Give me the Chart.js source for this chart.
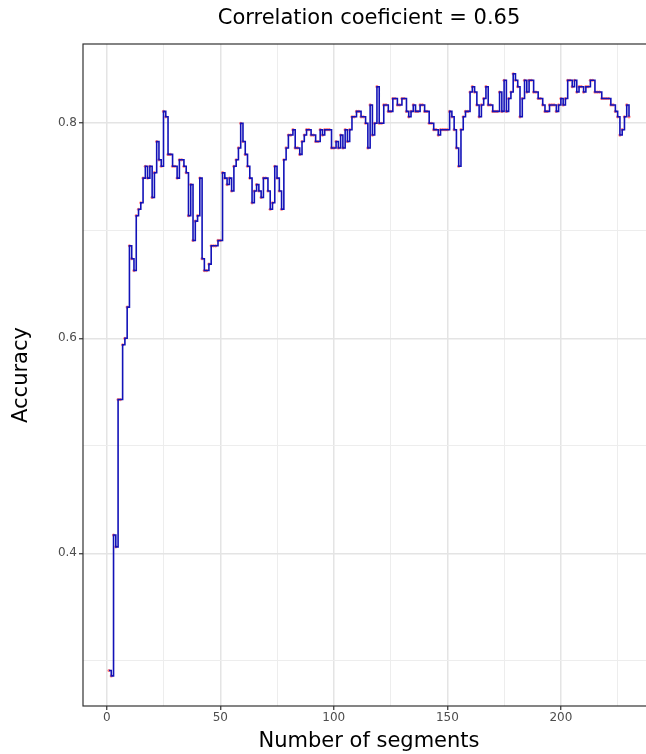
<!DOCTYPE html>
<html lang="en">
<head>
<meta charset="UTF-8">
<title>Accuracy vs number of segments</title>
<script src="https://cdn.jsdelivr.net/npm/chart.js@4.4.1/dist/chart.umd.min.js"></script>
<style>
  html, body { margin: 0; padding: 0; background: #fff; }
  /* the panel runs a little past the right edge in the original, so clip it */
  #wrap { width: 646px; height: 754px; overflow: hidden; }
  #chart { display: block; }
</style>
</head>
<body>
<div id="wrap"><canvas id="chart" width="660" height="754"></canvas></div>
<script>
const chartTitle = 'Correlation coeficient = 0.65';
const xTitle = 'Number of segments';
const yTitle = 'Accuracy';

// accuracy for 1, 2, ... 230 segments
const firstSegment = 1;
const accuracy = [
  0.291, 0.286, 0.417, 0.406, 0.543, 0.543, 0.594, 0.600, 0.629, 0.686,
  0.674, 0.663, 0.714, 0.720, 0.726, 0.749, 0.760, 0.749, 0.760, 0.731,
  0.754, 0.783, 0.766, 0.760, 0.811, 0.806, 0.771, 0.771, 0.760, 0.760,
  0.749, 0.766, 0.766, 0.760, 0.754, 0.714, 0.743, 0.691, 0.709, 0.714,
  0.749, 0.674, 0.663, 0.663, 0.669, 0.686, 0.686, 0.686, 0.691, 0.691,
  0.754, 0.749, 0.743, 0.749, 0.737, 0.760, 0.766, 0.777, 0.800, 0.783,
  0.771, 0.760, 0.749, 0.726, 0.737, 0.743, 0.737, 0.731, 0.749, 0.749,
  0.737, 0.720, 0.726, 0.760, 0.749, 0.737, 0.720, 0.766, 0.777, 0.789,
  0.789, 0.794, 0.777, 0.777, 0.771, 0.783, 0.789, 0.794, 0.794, 0.789,
  0.789, 0.783, 0.783, 0.794, 0.789, 0.794, 0.794, 0.794, 0.777, 0.777,
  0.783, 0.777, 0.789, 0.777, 0.794, 0.783, 0.794, 0.806, 0.806, 0.811,
  0.811, 0.806, 0.806, 0.800, 0.777, 0.817, 0.789, 0.800, 0.834, 0.800,
  0.800, 0.817, 0.817, 0.811, 0.811, 0.823, 0.823, 0.817, 0.817, 0.823,
  0.823, 0.811, 0.806, 0.811, 0.817, 0.811, 0.811, 0.817, 0.817, 0.811,
  0.811, 0.800, 0.800, 0.794, 0.794, 0.789, 0.794, 0.794, 0.794, 0.794,
  0.811, 0.806, 0.794, 0.777, 0.760, 0.794, 0.806, 0.811, 0.811, 0.829,
  0.834, 0.829, 0.817, 0.806, 0.817, 0.823, 0.834, 0.817, 0.817, 0.811,
  0.811, 0.811, 0.829, 0.811, 0.840, 0.811, 0.823, 0.829, 0.846, 0.840,
  0.834, 0.806, 0.823, 0.840, 0.829, 0.840, 0.840, 0.829, 0.829, 0.823,
  0.823, 0.817, 0.811, 0.811, 0.817, 0.817, 0.817, 0.811, 0.817, 0.823,
  0.817, 0.823, 0.840, 0.840, 0.834, 0.840, 0.829, 0.834, 0.834, 0.829,
  0.834, 0.834, 0.840, 0.840, 0.829, 0.829, 0.829, 0.823, 0.823, 0.823,
  0.823, 0.817, 0.817, 0.811, 0.806, 0.789, 0.794, 0.806, 0.817, 0.806
];

const xMajorTicks = [0, 50, 100, 150, 200];
const xMinorTicks = [25, 75, 125, 175, 225];
const yMajorTicks = [0.4, 0.6, 0.8];
const yMinorTicks = [0.3, 0.5, 0.7];
const xLimits = [-10.45, 241.45];
const yLimits = [0.258, 0.8737];

const points = accuracy.map((v, i) => ({ x: firstSegment + i, y: v }));

// grey20 frame round the panel, like theme_bw
const panelBorder = {
    id: 'panelBorder',
    afterDatasetsDraw(chart) {
        const { ctx, chartArea: a } = chart;
        ctx.save();
        ctx.strokeStyle = '#333333';
        ctx.lineWidth = 1.2;
        ctx.strokeRect(a.left, a.top, a.right - a.left, a.bottom - a.top);
        ctx.restore();
    }
};

function gridFor(majors) {
    const isMajor = c => majors.includes(c.tick.value);
    return {
        color: c => isMajor(c) ? '#e4e4e4' : '#ededed',
        lineWidth: c => isMajor(c) ? 1.5 : 1,
        tickColor: c => isMajor(c) ? '#333333' : 'rgba(0,0,0,0)',
        tickWidth: 1.2,
        tickLength: 4,
        drawTicks: true
    };
}

const tickFont = { family: 'DejaVu Sans', size: 12 };
const titleFont = { family: 'DejaVu Sans', size: 21 };

new Chart(document.getElementById('chart'), {
    type: 'line',
    data: {
        datasets: [
            {
                data: points,
                stepped: 'before',
                borderColor: '#1212b8',
                borderWidth: 1.6,
                pointRadius: 0,
                fill: false
            },
            {
                data: points,
                showLine: false,
                pointRadius: 1.6,
                pointBackgroundColor: 'rgba(255, 90, 90, 0.8)',
                pointBorderWidth: 0
            }
        ]
    },
    options: {
        responsive: false,
        animation: false,
        devicePixelRatio: 1,
        layout: { padding: { left: 0, right: 5, top: 0, bottom: 0 } },
        plugins: {
            legend: { display: false },
            tooltip: { enabled: false },
            title: {
                display: true,
                text: chartTitle,
                fullSize: false,
                color: '#000000',
                font: { family: 'DejaVu Sans', size: 21, weight: 'normal' },
                padding: { top: 5.5, bottom: 13.3 }
            }
        },
        scales: {
            x: {
                type: 'linear',
                min: xLimits[0],
                max: xLimits[1],
                afterBuildTicks: axis => {
                    axis.ticks = [...xMajorTicks, ...xMinorTicks].sort((a, b) => a - b).map(v => ({ value: v }));
                },
                afterFit: axis => { axis.height = 48; },
                grid: gridFor(xMajorTicks),
                border: { display: false },
                ticks: {
                    autoSkip: false,
                    maxRotation: 0,
                    padding: 1,
                    color: '#4d4d4d',
                    font: tickFont,
                    callback: v => xMajorTicks.includes(v) ? String(v) : ''
                },
                title: {
                    display: true,
                    text: xTitle,
                    color: '#000000',
                    font: titleFont,
                    padding: { top: 0, bottom: 0 }
                }
            },
            y: {
                type: 'linear',
                min: yLimits[0],
                max: yLimits[1],
                afterBuildTicks: axis => {
                    axis.ticks = [...yMajorTicks, ...yMinorTicks].sort((a, b) => a - b).map(v => ({ value: v }));
                },
                afterFit: axis => { axis.width = 83; },
                grid: gridFor(yMajorTicks),
                border: { display: false },
                ticks: {
                    autoSkip: false,
                    padding: 2,
                    color: '#4d4d4d',
                    font: tickFont,
                    callback: v => yMajorTicks.includes(v) ? v.toFixed(1) : ''
                },
                title: {
                    display: true,
                    text: yTitle,
                    color: '#000000',
                    font: titleFont,
                    padding: { top: 9.4, bottom: 0 }
                }
            }
        }
    },
    plugins: [panelBorder]
});
</script>
</body>
</html>
